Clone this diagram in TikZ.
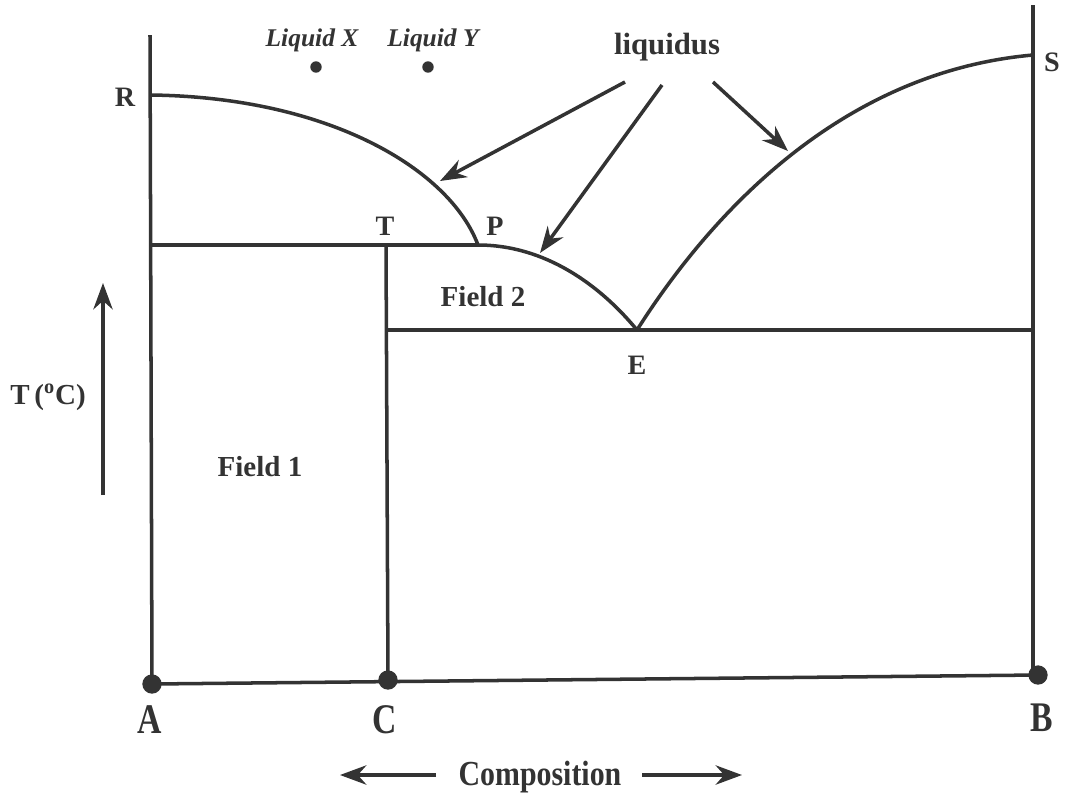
\documentclass[tikz,border=0pt]{standalone}
\usepackage{fontspec}
\setmainfont{Liberation Serif}
\usetikzlibrary{arrows.meta}
\definecolor{ink}{HTML}{333333}
\begin{document}
\begin{tikzpicture}[x=0.02cm,y=-0.02cm, line width=2pt, draw=ink,
  lbl/.style={font=\bfseries\fontsize{16}{16}\selectfont, text=ink, inner sep=0},
  fieldlbl/.style={font=\bfseries\fontsize{16.5}{16.5}\selectfont, text=ink, inner sep=0},
  liqlbl/.style={font=\bfseries\itshape\fontsize{14.5}{14.5}\selectfont, text=ink, inner sep=0},
  biglbl/.style={font=\bfseries\fontsize{24}{24}\selectfont, text=ink, inner sep=0, xscale=0.8},
  complbl/.style={font=\bfseries\fontsize{20}{20}\selectfont, text=ink, inner sep=0, xscale=0.85},
  bigdot/.style={circle, fill=ink, draw=none, minimum size=11pt, inner sep=0},
  smalldot/.style={circle, fill=ink, draw=none, minimum size=6.5pt, inner sep=0},
  arr/.style={-{Stealth[length=15pt,width=11pt]}},
  line/.style={draw=ink, line width=2pt}
]
\path[use as bounding box] (0,0) rectangle (1065,802);
% points
\coordinate (R) at (150,95);
\coordinate (P) at (478,245);
\coordinate (E) at (637,330);
\coordinate (S) at (1033,55);
\coordinate (Ltop) at (150,35);
\coordinate (Rtop) at (1033,5);
\coordinate (L245) at (150,245);
\coordinate (C245) at (386,245);
\coordinate (C330) at (386,330);
\coordinate (B330) at (1033,330);
\coordinate (Rbot) at (1033,675);
% bottom dots
\node[bigdot] (A) at (152,684) {};
\node[bigdot] (C) at (388,680) {};
\node[bigdot] (B) at (1038,675) {};
% frame
\draw[line] (Ltop) -- (A.center);
\draw[line] (Rtop) -- (Rbot);
\draw[line] (A.center) -- (B.center);
\draw[line] (C245) -- (C.center);
\draw[line] (L245) -- (P);
\draw[line] (C330) -- (B330);
% curves
\draw[line] (R) .. controls (330,97) and (450,170) .. (P);
\draw[line] (P) .. controls (545,245) and (600,285) .. (E);
\draw[line] (E) .. controls (710,215) and (840,72) .. (S);
% labels
\node[lbl] (lR) at (125,97) {R};
\node[lbl] (lS) at (1052,62) {S};
\node[lbl] (lT) at (385,226) {T};
\node[lbl] (lP) at (495,226) {P};
\node[lbl] (lE) at (637,365) {E};
\node[fieldlbl] (f2) at (483,297) {Field 2};
\node[fieldlbl] (f1) at (260,467) {Field 1};
\node[font=\bfseries\fontsize{16.5}{16.5}\selectfont, text=ink, inner sep=0] (tc) at (48,397) {T\,(\textsuperscript{o}C)};
\node[biglbl] (lA) at (150,720) {A};
\node[biglbl] (lC) at (385,720) {C};
\node[biglbl] (lB) at (1042,718) {B};
\node[complbl] (comp) at (540,777) {Composition};
\node[liqlbl] (lx) at (312,40) {Liquid X};
\node[liqlbl] (ly) at (433,40) {Liquid Y};
\node[smalldot] (dx) at (316,67) {};
\node[smalldot] (dy) at (428,67) {};
\node[font=\bfseries\fontsize{17.5}{17.5}\selectfont, text=ink, inner sep=0] (liq) at (667,47) {liquidus};
% arrows
\coordinate (a1s) at (625,82); \coordinate (a1e) at (440,181);
\coordinate (a2s) at (662,85); \coordinate (a2e) at (540,253);
\coordinate (a3s) at (713,82); \coordinate (a3e) at (788,151);
\draw[line, arr] (a1s) -- (a1e);
\draw[line, arr] (a2s) -- (a2e);
\draw[line, arr] (a3s) -- (a3e);
\coordinate (u1) at (103,495); \coordinate (u2) at (103,283);
\draw[line, arr] (u1) -- (u2);
\coordinate (cl1) at (436,775); \coordinate (cl2) at (340,775);
\coordinate (cr1) at (642,775); \coordinate (cr2) at (742,775);
\draw[line, arr] (cl1) -- (cl2);
\draw[line, arr] (cr1) -- (cr2);
\end{tikzpicture}
\end{document}
